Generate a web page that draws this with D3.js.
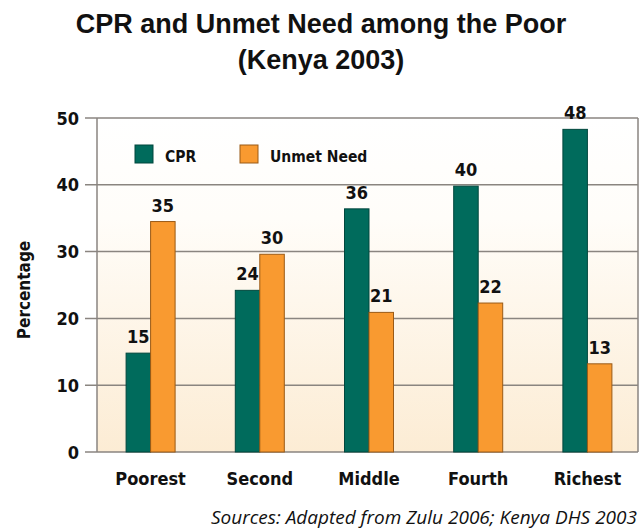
<!DOCTYPE html>
<html><head><meta charset="utf-8">
<script src="https://cdn.jsdelivr.net/npm/d3@7"></script>
<style>
html,body{margin:0;padding:0;background:#fff;}
svg{display:block;}
.cond{font-family:"DejaVu Sans Condensed","DejaVu Sans",sans-serif;font-stretch:condensed;font-weight:bold;fill:#111;}
</style></head>
<body>
<script>
const categories = ["Poorest","Second","Middle","Fourth","Richest"];
const seriesNames = ["CPR","Unmet Need"];
const cprValues = [14.8, 24.2, 36.4, 39.8, 48.3];
const unmetValues = [34.5, 29.6, 20.9, 22.3, 13.2];
const yTicks = [0,10,20,30,40,50];
const colors = ["#006b5c","#f99a30"];
const strokes = ["#00473d","#9a5a16"];

(function(){
const W=641,H=531;
const svg=d3.select("body").append("svg").attr("width",W).attr("height",H);
const pLeft=97,pRight=638,pTop=118,pBottom=452;
const x=d3.scaleBand().domain(categories).range([96,642]);
const y=d3.scaleLinear().domain([0,50]).range([pBottom,pTop]);
const barW=24.5;

const defs=svg.append("defs");
const g=defs.append("linearGradient").attr("id","bg").attr("x1",0).attr("x2",0).attr("y1",0).attr("y2",1);
g.append("stop").attr("offset","0%").attr("stop-color","#ffffff");
g.append("stop").attr("offset","30%").attr("stop-color","#fffdf9");
g.append("stop").attr("offset","100%").attr("stop-color","#fcecd4");
svg.append("rect").attr("x",pLeft).attr("y",pTop).attr("width",pRight-pLeft).attr("height",pBottom-pTop).attr("fill","url(#bg)");

svg.append("g").selectAll("line").data(yTicks).join("line")
 .attr("x1",85).attr("x2",pRight).attr("y1",d=>y(d)).attr("y2",d=>y(d))
 .attr("stroke","#8a8580").attr("stroke-width",1.5);
svg.append("line").attr("x1",pLeft).attr("x2",pLeft).attr("y1",pTop).attr("y2",pBottom).attr("stroke","#8a8580").attr("stroke-width",1.5);
svg.append("line").attr("x1",pRight).attr("x2",pRight).attr("y1",pTop).attr("y2",pBottom).attr("stroke","#8a8580").attr("stroke-width",1.5);

svg.append("g").selectAll("text").data(yTicks).join("text").attr("class","cond")
 .attr("x",79).attr("y",d=>y(d)+6.5).attr("text-anchor","end").attr("font-size",18).text(d=>d);

svg.append("text").attr("class","cond").attr("font-size",17)
 .attr("transform","translate(30,290) rotate(-90)").attr("text-anchor","middle").text("Percentage");

const series=[cprValues,unmetValues];
series.forEach((vals,si)=>{
  const cx=c=>x(c)+x.bandwidth()/2 + (si===0?-barW:0);
  svg.append("g").selectAll("rect").data(categories).join("rect")
   .attr("x",c=>cx(c)).attr("width",barW)
   .attr("y",(c,i)=>y(vals[i])).attr("height",(c,i)=>pBottom-y(vals[i]))
   .attr("fill",colors[si]).attr("stroke",strokes[si]).attr("stroke-width",1);
  svg.append("g").selectAll("text").data(categories).join("text").attr("class","cond")
   .attr("x",c=>cx(c)+barW/2).attr("y",(c,i)=>y(vals[i])-10).attr("text-anchor","middle")
   .attr("font-size",18).text((c,i)=>Math.round(vals[i]));
});

svg.append("g").selectAll("text").data(categories).join("text").attr("class","cond")
 .attr("x",c=>x(c)+x.bandwidth()/2).attr("y",485).attr("text-anchor","middle").attr("font-size",18).text(c=>c);

const leg=[{x:135,tx:165},{x:240,tx:270}];
seriesNames.forEach((n,i)=>{
  svg.append("rect").attr("x",leg[i].x).attr("y",145).attr("width",18).attr("height",18)
   .attr("fill",colors[i]).attr("stroke",strokes[i]).attr("stroke-width",1);
  svg.append("text").attr("class","cond").attr("x",leg[i].tx).attr("y",161.5).attr("font-size",15.5).text(n);
});

svg.append("text").attr("x",321).attr("y",33).attr("text-anchor","middle")
 .attr("font-family","'Liberation Sans',Arial,sans-serif").attr("font-weight","bold").attr("font-size",27).attr("fill","#111")
 .text("CPR and Unmet Need among the Poor");
svg.append("text").attr("x",321).attr("y",69).attr("text-anchor","middle")
 .attr("font-family","'Liberation Sans',Arial,sans-serif").attr("font-weight","bold").attr("font-size",27).attr("fill","#111")
 .text("(Kenya 2003)");

svg.append("text").attr("x",637).attr("y",524).attr("text-anchor","end")
 .attr("font-family","'Open Sans','Noto Sans',sans-serif").attr("font-style","italic").attr("font-size",19).attr("fill","#111")
 .text("Sources: Adapted from Zulu 2006; Kenya DHS 2003");
})();
</script>
</body></html>
